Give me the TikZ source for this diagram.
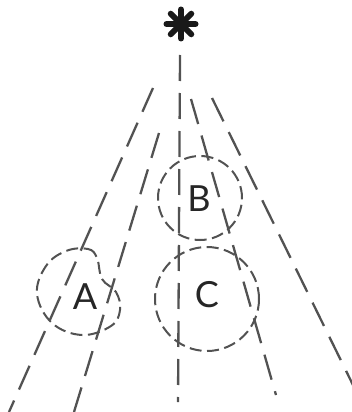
\documentclass[tikz,border=0pt]{standalone}
\usepackage{fontspec}
\setmainfont{Lato}
\usetikzlibrary{calc}
\begin{document}
\begin{tikzpicture}[x=1pt,y=-1pt,
  ink/.style={draw=black!68},
  ray/.style={ink,line width=2.3pt,dash pattern=on 26pt off 12pt},
  ringline/.style={ink,line width=2pt,dash pattern=on 12pt off 5.5pt},
  ring/.style={ringline,circle,inner sep=0pt},
  letter/.style={font=\fontsize{36}{36}\selectfont,text=black!85,inner sep=0pt}]
  \useasboundingbox (0,0) rectangle (352,412);

  % light source: a heavy eight-armed asterisk
  \coordinate (src) at (181,24);
  \foreach \a in {0,45,90,135}
    \draw[line width=6pt,line cap=round,black!90] ($(src)+(\a:14.5)$) -- ($(src)+(\a+180:14.5)$);
  \fill[black!90] (src) circle (5);

  % rays
  \coordinate (r1s) at (153,88);  \coordinate (r1e) at (9,412);
  \coordinate (r2s) at (159,133); \coordinate (r2e) at (74,412);
  \coordinate (r3s) at (180,55);  \coordinate (r3e) at (178,402);
  \coordinate (r4s) at (191,99);  \coordinate (r4e) at (276,395);
  \coordinate (r5s) at (212,98);  \coordinate (r5e) at (353,385);
  \draw[ray] (r1s) -- (r1e);
  \draw[ray] (r2s) -- (r2e);
  \draw[ray] (r3s) -- (r3e);
  \draw[ray] (r4s) -- (r4e);
  \draw[ray] (r5s) -- (r5e);

  % bodies
  \node[ring,minimum size=84pt] (B) at (200,198) {};
  \node[letter] (Bl) at (199,199) {B};
  \node[ring,minimum size=104pt] (C) at (207,299) {};
  \node[letter] (Cl) at (207,295) {C};

  \draw[ringline] plot[smooth cycle,tension=0.65] coordinates {
    (66,251) (88,249) (97,258) (102,279) (116,292) (120,310) (111,326)
    (82,335) (52,323) (37,294) (46,266)};
  \node[letter] (Al) at (85,297) {A};
\end{tikzpicture}
\end{document}
